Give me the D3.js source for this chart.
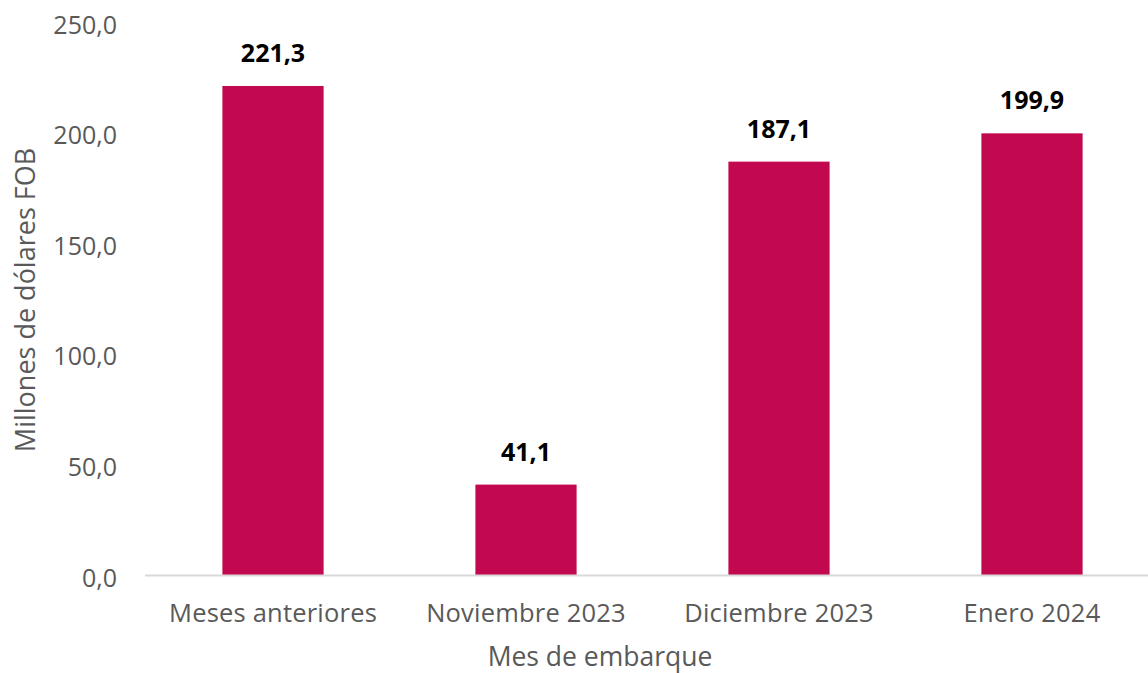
<!DOCTYPE html>
<html>
<head>
<meta charset="utf-8">
<script src="https://cdn.jsdelivr.net/npm/d3@7"></script>
<style>
  body { margin: 0; background: #fff; }
  svg text { font-family: "Open Sans", sans-serif; }
</style>
</head>
<body>
<div id="content"></div>
<script>
// data
var categories = ["Meses anteriores", "Noviembre 2023", "Diciembre 2023", "Enero 2024"];
var values = [221.3, 41.1, 187.1, 199.9];
var yTicks = [0, 50, 100, 150, 200, 250];

var width = 1148, height = 673;
var barColor = "#c2094f", textColor = "#595959";

var svg = d3.select("#content").append("svg").attr("width", width).attr("height", height);

var x = d3.scaleBand().domain(categories).range([146.5, 1158.5]).paddingInner(0.6).paddingOuter(0.3);
var y = d3.scaleLinear().domain([0, 250]).range([575.5, 22.5]);

var fmt = function(v) { return d3.format(".1f")(v).replace(".", ","); };

// y axis labels (no line)
var yAxis = d3.axisLeft(y).tickValues(yTicks).tickFormat(fmt).tickSize(0).tickPadding(0);
var gy = svg.append("g").attr("transform", "translate(117,0)").call(yAxis);
gy.select(".domain").remove();
gy.selectAll("text").style("font-size", "25px").style("fill", textColor).attr("dy", "0.42em");

// bars
svg.append("g").selectAll("rect")
    .data(values)
    .enter()
    .append("rect")
    .attr("x", function(d, i) { return x(categories[i]); })
    .attr("y", function(d) { return y(d); })
    .attr("width", x.bandwidth())
    .attr("height", function(d) { return y(0) - y(d); })
    .style("fill", barColor);

// x axis
var xAxis = d3.axisBottom(x).tickSize(0).tickPadding(0);
var gx = svg.append("g").attr("transform", "translate(0," + y(0) + ")").call(xAxis);
gx.select(".domain").remove();
gx.append("line").attr("x1", 145).attr("x2", width).attr("y1", 0).attr("y2", 0)
    .style("stroke", "#d9d9d9").style("stroke-width", 2);
gx.selectAll(".tick text").style("font-size", "25.5px").style("letter-spacing", "0.2px")
    .style("fill", textColor).attr("y", 46.5).attr("dy", 0);

// value labels
svg.append("g").selectAll("text")
    .data(values)
    .enter()
    .append("text")
    .attr("x", function(d, i) { return x(categories[i]) + x.bandwidth() / 2; })
    .attr("y", function(d) { return y(d) - 24; })
    .attr("text-anchor", "middle")
    .style("font-size", "25px")
    .style("font-weight", "bold")
    .style("fill", "#000")
    .text(fmt);

// axis titles
svg.append("text").attr("x", 600).attr("y", 666).attr("text-anchor", "middle")
    .style("font-size", "26.5px").style("fill", textColor).text("Mes de embarque");

svg.append("text").attr("transform", "translate(35,300) rotate(-90)").attr("text-anchor", "middle")
    .style("font-size", "27px").style("fill", textColor).text("Millones de dólares FOB");
</script>
</body>
</html>
